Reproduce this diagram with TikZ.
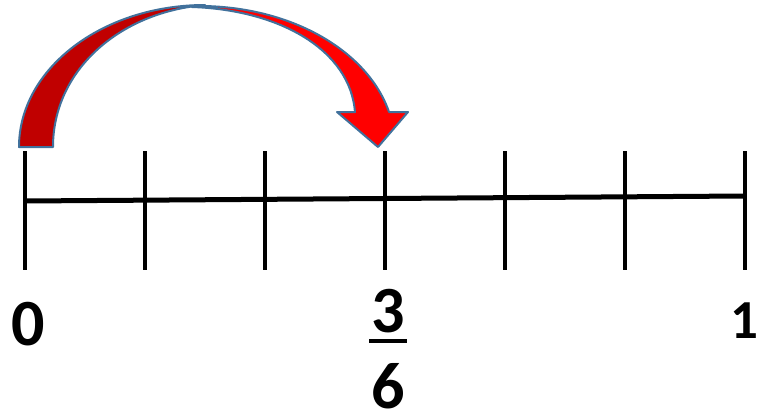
\documentclass[tikz,border=0pt]{standalone}
\usepackage{fontspec}
\setmainfont{Carlito}
\usetikzlibrary{positioning}

\definecolor{jumpdark}{RGB}{192,0,0}
\definecolor{jumpred}{RGB}{255,0,0}
\definecolor{jumpedge}{RGB}{65,113,156}

\begin{document}
\begin{tikzpicture}[x=1pt, y=-1pt,
  tick/.style={line width=4.5pt},
  axis/.style={line width=5pt},
  num/.style={inner sep=0pt, font=\bfseries\fontsize{66}{66}\selectfont},
  jump/.style={draw=jumpedge, line width=2pt, line join=round}]
  \useasboundingbox (0,0) rectangle (761,415);
  % number line
  \foreach \i in {0,...,6} {
    \coordinate (t\i) at (25+120*\i,151);
    \coordinate (b\i) at (25+120*\i,270);
    \draw[tick] (t\i) -- (b\i);
  }
  \coordinate (a0) at (25,201);
  \coordinate (a6) at (745,196);
  \draw[axis] (a0) -- (a6);
  % labels
  \node[num] (zero) at (28,324) {0};
  \node[num] (three) at (388,311) {3};
  \node[num] (six) at (388,386) {6};
  \node[num, font=\bfseries\fontsize{55}{55}\selectfont] (one) at (744,321) {1};
  \draw[line width=4pt] ([xshift=-2pt,yshift=-8pt]three.south west) -- ([xshift=2pt,yshift=-8pt]three.south east);
  % jump of three sixths
  \filldraw[jump, fill=jumpdark] (19,147) -- (53,147) .. controls (53,70) and (120,12) .. (205,5)
    .. controls (102,5) and (19,69) .. cycle;
  \filldraw[jump, fill=jumpred] (192,6) .. controls (290,4) and (368,51) .. (389,112)
    -- (408,112) -- (378,147) -- (337,112) -- (355,112)
    .. controls (350,50) and (280,10) .. (192,7) -- cycle;
\end{tikzpicture}
\end{document}
